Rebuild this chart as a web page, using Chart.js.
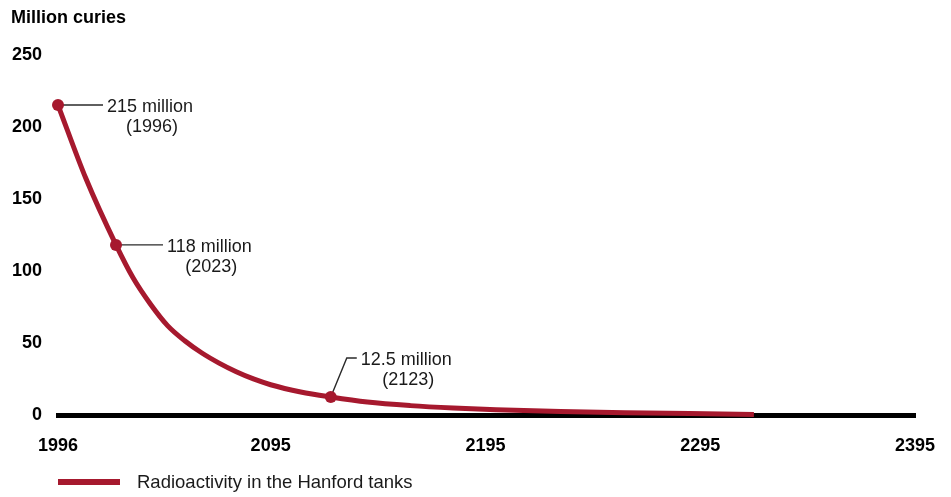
<!DOCTYPE html>
<html>
<head>
<meta charset="utf-8">
<script src="https://cdn.jsdelivr.net/npm/chart.js@4/dist/chart.umd.min.js"></script>
<style>
  html, body { margin: 0; padding: 0; background: #fff; }
  #wrap { width: 951px; height: 497px; position: relative; }
</style>
</head>
<body>
<div id="wrap"><canvas id="c" width="951" height="497"></canvas></div>
<script>
// ---- Data ----
const titleText = 'Million curies';
const seriesLabel = 'Radioactivity in the Hanford tanks';
const years  = [1996, 2009, 2023, 2031, 2039, 2047, 2055, 2063, 2071, 2079, 2087, 2095, 2109, 2123, 2140, 2160, 2180, 2200, 2230, 2260, 2290, 2320];
const curies = [215, 164, 118, 95, 77, 62, 51.5, 43, 36, 30, 25, 21, 16, 12.5, 9, 6.5, 4.8, 3.6, 2.4, 1.6, 1.0, 0.4];
const xTickValues = [1996, 2095, 2195, 2295, 2395];
const yMin = 0, yMax = 250, yStep = 50;
const annoYears  = [1996, 2023, 2123];
const annoValues = [215, 118, 12.5];
const annoLine1  = ['215 million', '118 million', '12.5 million'];
const annoLine2  = ['(1996)', '(2023)', '(2123)'];

const RED = '#A6192E';
const FONT = "'Liberation Sans', Arial, Helvetica, sans-serif";
Chart.defaults.font.family = FONT;

// leader geometry (pixel offsets from the point): list of [dx, dy] vertices
const leaderPaths = [
  [[0, 0], [45, 0]],
  [[0, 0], [47, 0]],
  [[0, 0], [16, -39], [26, -39]]
];

const annotationPlugin = {
  id: 'annos',
  beforeDatasetsDraw(chart) {
    const ctx = chart.ctx, xs = chart.scales.x, ys = chart.scales.y;
    ctx.save();
    ctx.strokeStyle = '#2a2a2a';
    ctx.lineWidth = 1.4;
    annoYears.forEach((yr, i) => {
      const px = xs.getPixelForValue(yr), py = ys.getPixelForValue(annoValues[i]);
      const path = leaderPaths[i];
      ctx.beginPath();
      path.forEach((p, k) => {
        if (k === 0) ctx.moveTo(px + p[0], py + p[1]);
        else ctx.lineTo(px + p[0], py + p[1]);
      });
      ctx.stroke();
    });
    ctx.restore();
  },
  afterDatasetsDraw(chart) {
    const ctx = chart.ctx, xs = chart.scales.x, ys = chart.scales.y;
    ctx.save();
    ctx.fillStyle = '#1a1a1a';
    ctx.font = '18px ' + FONT;
    ctx.textBaseline = 'middle';
    ctx.textAlign = 'center';
    annoYears.forEach((yr, i) => {
      const px = xs.getPixelForValue(yr), py = ys.getPixelForValue(annoValues[i]);
      const end = leaderPaths[i][leaderPaths[i].length - 1];
      const w = ctx.measureText(annoLine1[i]).width;
      const cx = px + end[0] + 4 + w / 2;
      const cy = py + end[1] + 2;
      ctx.fillText(annoLine1[i], cx, cy);
      ctx.fillText(annoLine2[i], cx + 2, cy + 20);
    });
    ctx.restore();
  },
  afterDraw(chart) {
    // legend
    const ctx = chart.ctx;
    const ds = chart.data.datasets[0];
    const left = chart.chartArea.left;
    const y = 482;
    ctx.save();
    ctx.strokeStyle = ds.borderColor;
    ctx.lineWidth = 6;
    ctx.beginPath();
    ctx.moveTo(left, y);
    ctx.lineTo(left + 62, y);
    ctx.stroke();
    ctx.fillStyle = '#1a1a1a';
    ctx.font = '18.5px ' + FONT;
    ctx.textBaseline = 'middle';
    ctx.textAlign = 'left';
    ctx.fillText(ds.label, left + 79, y + 1);
    ctx.restore();
  }
};

new Chart(document.getElementById('c'), {
  type: 'line',
  data: {
    datasets: [{
      label: seriesLabel,
      data: years.map((yr, i) => ({ x: yr, y: curies[i] })),
      borderColor: RED,
      backgroundColor: RED,
      borderWidth: 5,
      cubicInterpolationMode: 'monotone',
      pointRadius: ctx => (ctx.raw && annoYears.includes(ctx.raw.x)) ? 6 : 0,
      pointHoverRadius: 0,
      pointBorderWidth: 0,
      pointBackgroundColor: RED,
      clip: false,
      fill: false
    }]
  },
  options: {
    responsive: false,
    animation: false,
    events: [],
    layout: { padding: { left: 11, right: 36, top: 0, bottom: 37 } },
    plugins: {
      legend: { display: false },
      tooltip: { enabled: false },
      title: {
        display: true,
        text: titleText,
        align: 'start',
        color: '#000',
        font: { size: 18, weight: 'bold' },
        padding: { top: 7, bottom: 26 }
      }
    },
    scales: {
      x: {
        type: 'linear',
        min: 1996,
        max: 2395,
        grid: { display: false, drawTicks: false },
        border: { display: true, color: '#000', width: 5 },
        afterBuildTicks: s => { s.ticks = xTickValues.map(v => ({ value: v })); },
        afterFit: s => { s.height = 45; s.paddingLeft = 0; s.paddingRight = 0; },
        ticks: {
          color: '#000',
          font: { size: 18, weight: 'bold' },
          padding: 20,
          maxRotation: 0,
          autoSkip: false,
          callback: v => String(v)
        }
      },
      y: {
        min: yMin,
        max: yMax,
        grid: { display: false, drawTicks: false },
        border: { display: false },
        afterFit: s => { s.width = 47; },
        ticks: {
          stepSize: yStep,
          color: '#000',
          font: { size: 18, weight: 'bold' },
          padding: 16
        }
      }
    }
  },
  plugins: [annotationPlugin]
});
</script>
</body>
</html>
